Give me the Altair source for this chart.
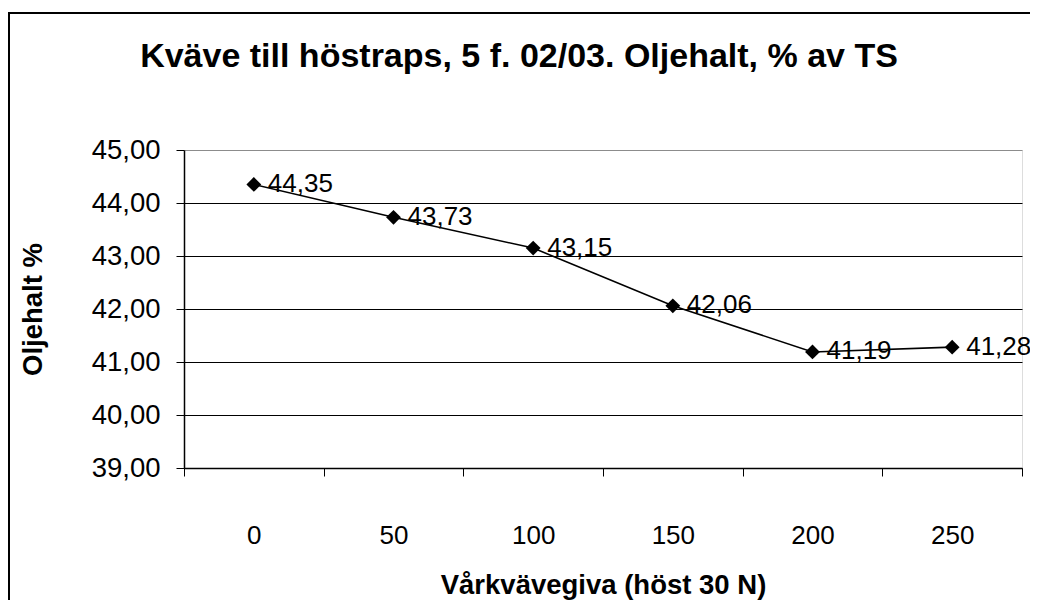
import altair as alt
import pandas as pd

categories = ["0", "50", "100", "150", "200", "250"]
oil = [44.35, 43.73, 43.15, 42.06, 41.19, 41.28]
y_ticks = [39, 40, 41, 42, 43, 44, 45]
title_text = "Kväve till höstraps, 5 f. 02/03. Oljehalt, % av TS"

df = pd.DataFrame({"giva": categories, "olja": oil})

FONT = "Liberation Sans"
W, H = 838, 318

x_enc = alt.X(
    "giva:O",
    sort=categories,
    scale=alt.Scale(type="band", paddingInner=0, paddingOuter=0),
    axis=alt.Axis(
        title="Vårkvävegiva (höst 30 N)",
        labelAngle=0,
        tickBand="extent",
        tickSize=8,
        tickColor="black",
        domainColor="black",
        domainWidth=1.5,
        labelPadding=46,
        labelFontSize=26,
        labelFont=FONT,
        labelColor="black",
        titleFont=FONT,
        titleFontSize=27.5,
        titleFontWeight="bold",
        titleColor="black",
        titlePadding=23,
        grid=False,
    ),
)

y_enc = alt.Y(
    "olja:Q",
    scale=alt.Scale(domain=[39, 45], nice=False, zero=False),
    axis=alt.Axis(
        title="Oljehalt %",
        values=y_ticks,
        labelExpr="replace(format(datum.value, '.2f'), '.', ',')",
        tickSize=8,
        tickColor="black",
        domainColor="black",
        domainWidth=1.5,
        labelPadding=16,
        labelFontSize=27.5,
        labelFont=FONT,
        labelColor="black",
        titleFont=FONT,
        titleFontSize=27.5,
        titleFontWeight="bold",
        titleColor="black",
        titlePadding=44,
        grid=True,
        gridColor={"condition": {"test": "datum.value == 45", "value": "#8c8c8c"}, "value": "black"},
        gridWidth=1,
        gridOpacity=1,
    ),
)

base = alt.Chart(df).encode(x=x_enc, y=y_enc)

line = base.mark_line(color="black", strokeWidth=1.6)
pts = base.mark_point(shape="diamond", filled=True, color="black", size=220, opacity=1)
labels = base.transform_calculate(
    lab="replace(format(datum.olja, '.2f'), '.', ',')"
).mark_text(
    align="left", baseline="alphabetic", dx=14, dy=7.5, fontSize=26, font=FONT, color="black"
).encode(text="lab:N")

first = alt.Chart(df).transform_filter("datum.giva == '0'")

border = first.mark_rect(
    fill=None, stroke="black", strokeWidth=2
).encode(
    x=alt.value(-175), x2=alt.value(1100), y=alt.value(-137), y2=alt.value(700)
)

title = first.transform_calculate(t=f"'{title_text}'").mark_text(
    font=FONT, fontSize=34, fontWeight="bold", color="black",
    align="center", baseline="alphabetic"
).encode(x=alt.value(335), y=alt.value(-83), text="t:N")

chart = alt.layer(line, pts, labels, border, title).properties(
    width=W,
    height=H,
    padding={"left": 176, "top": 142, "right": 8, "bottom": 132},
    autosize=alt.AutoSizeParams(type="none"),
).configure_view(
    stroke="#8c8c8c", strokeWidth=1.5
).configure(background="white")

chart.save("out.html", embed_options={"renderer": "svg", "actions": False})
